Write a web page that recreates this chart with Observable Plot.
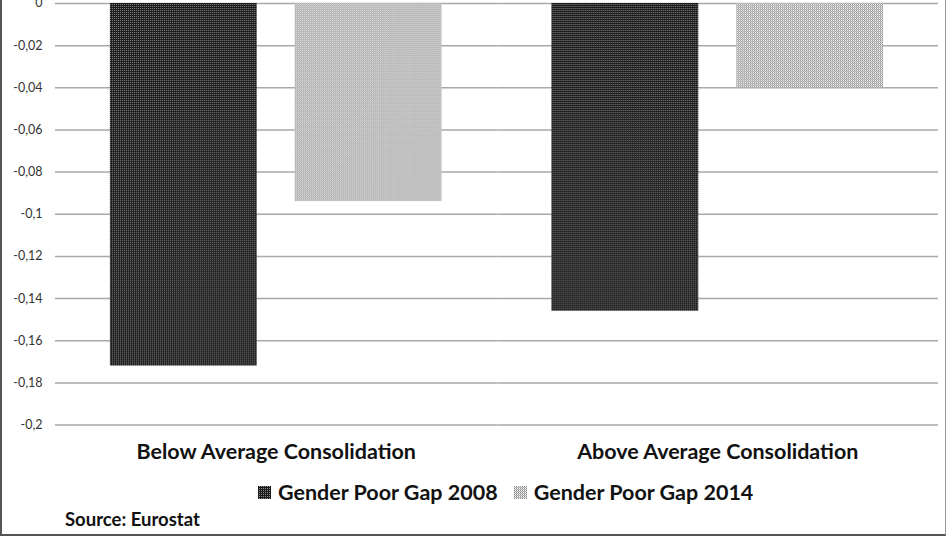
<!DOCTYPE html>
<html>
<head>
<meta charset="utf-8">
<script src="https://cdn.jsdelivr.net/npm/d3@7"></script>
<script src="https://cdn.jsdelivr.net/npm/@observablehq/plot@0.6"></script>
<style>
  html, body { margin: 0; padding: 0; background: #fff; }
  #frame { position: relative; width: 946px; height: 536px; box-sizing: border-box; border-left: 2px solid #555; border-bottom: 2px solid #555; border-right: 1px solid #999; overflow: hidden; font-family: Lato, sans-serif; }
  #chart { position: absolute; left: -2px; top: 0; }
  #legend { position: absolute; left: 256px; top: 479px; display: flex; justify-content: flex-start; font-weight: bold; font-size: 21.5px; color: #111; }
  .item { display: flex; align-items: center; margin-right: 16px; }
  .item svg { margin-right: 7px; }
  #source { position: absolute; left: 63px; top: 508px; font-weight: bold; font-size: 18.5px; color: #111; }
</style>
</head>
<body>
<svg width="0" height="0" style="position:absolute">
  <defs>
    <pattern id="p2008" width="2" height="2" patternUnits="userSpaceOnUse">
      <rect width="2" height="2" fill="#1a1a1a"/>
      <rect x="1" y="0" width="1" height="1" fill="#8a8a8a"/>
    </pattern>
    <pattern id="p2014" width="2" height="2" patternUnits="userSpaceOnUse">
      <rect width="2" height="2" fill="#ffffff"/>
      <rect x="0" y="0" width="1" height="1" fill="#8c8c8c"/>
      <rect x="1" y="1" width="1" height="1" fill="#a8a8a8"/>
      <rect x="0" y="1" width="1" height="1" fill="#d0d0d0"/>
    </pattern>
  </defs>
</svg>
<div id="frame">
  <div id="chart"></div>
  <div id="legend"></div>
  <div id="source">Source: Eurostat</div>
</div>
<script>
const categories = ["Below Average Consolidation", "Above Average Consolidation"];
const series = ["Gender Poor Gap 2008", "Gender Poor Gap 2014"];
const gap2008 = [-0.172, -0.146];
const gap2014 = [-0.094, -0.040];
const yTicks = [0, -0.02, -0.04, -0.06, -0.08, -0.1, -0.12, -0.14, -0.16, -0.18, -0.2];
const patterns = ["url(#p2008)", "url(#p2014)"];

const data = [];
categories.forEach((c, i) => {
  data.push({cat: c, series: series[0], value: gap2008[i]});
  data.push({cat: c, series: series[1], value: gap2014[i]});
});

const fmt = d => d === 0 ? "0" : String(+d.toFixed(2)).replace(".", ",");

const chart = Plot.plot({
  width: 946,
  height: 470,
  marginTop: 3,
  marginLeft: 54,
  marginRight: 7,
  marginBottom: 45,
  style: {fontFamily: "Lato, sans-serif", background: "transparent", overflow: "visible"},
  fx: {domain: categories, padding: 0, label: null},
  x: {domain: series, paddingInner: 0.2054, paddingOuter: 0.297, axis: null},
  y: {domain: [-0.2, 0], label: null},
  color: {domain: series, range: patterns},
  marks: [
    Plot.gridY(yTicks, {stroke: "#a9a9a9", strokeOpacity: 1, strokeWidth: 1.5}),
    Plot.barY(data, {fx: "cat", x: "series", y: "value", fill: "series"}),
    Plot.axisY(yTicks, {tickSize: 0, tickPadding: 13, tickFormat: fmt, fontSize: 12.5, fill: "#333"}),
    Plot.axisFx({anchor: "bottom", tickSize: 0, tickPadding: 19, fontSize: 21.5, fontWeight: "bold", fill: "#111", label: null})
  ]
});
document.getElementById("chart").appendChild(chart);

const legend = document.getElementById("legend");
series.forEach((s, i) => {
  const item = document.createElement("div");
  item.className = "item";
  item.innerHTML = `<svg width="13" height="13"><rect width="13" height="13" fill="${patterns[i]}"/></svg><span>${s}</span>`;
  legend.appendChild(item);
});
</script>
</body>
</html>
